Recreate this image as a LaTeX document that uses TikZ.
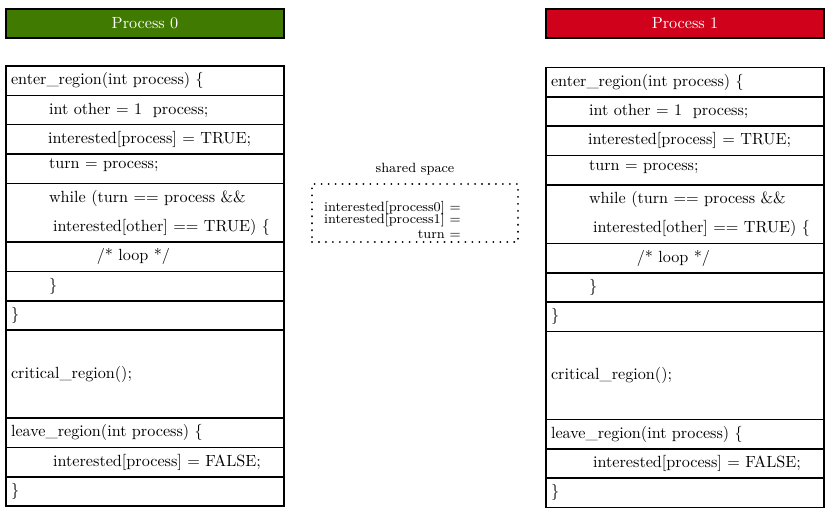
\documentclass[tikz,border=0pt]{standalone}
\usepackage{tikz}
\usetikzlibrary{positioning}

\definecolor{procgreen}{RGB}{64,122,0}
\definecolor{procred}{RGB}{208,2,27}
\newcommand{\sharedfont}{\fontsize{8.3}{7.4}\selectfont\lineskiplimit=-5pt\relax}

\begin{document}
\begin{tikzpicture}[x=0.618pt, y=-0.618pt,
    head/.style={rectangle, draw, line width=1pt, text=white, minimum width=171.8pt, minimum height=17.9pt, inner sep=0pt, outer sep=0pt},
    row/.style={rectangle, draw, line width=1pt, text width=165.6pt, align=left, inner xsep=3.1pt, inner ysep=0pt, minimum height=18.13pt, outer sep=0pt},
    shared/.style={rectangle, line width=1.3pt, dash pattern=on 0.01pt off 4.3pt, line cap=round, minimum width=127.3pt, minimum height=35.8pt},
    var/.style={font=\sharedfont, inner sep=0pt, align=right}]
    \useasboundingbox (0,0) rectangle (833,519);

    % process 0
    \node[head, fill=procgreen] (head0) at (145,23.5) {Process 0};
    \node[row, anchor=north] (enter0) at (145,66) {enter\_region(int process) \{};
    \node[row, below=0pt of enter0] (other0) {\hspace*{23.5pt}int other = 1\ \ process;};
    \node[row, below=0pt of other0] (true0) {\hspace*{22.9pt}interested[process] = TRUE;};
    \node[row, below=0pt of true0] (turn0) {\hspace*{23.5pt}\raisebox{0pt}[0pt][0pt]{turn = process;}};
    \node[row, below=0pt of turn0, minimum height=36.26pt] (while0) {\hspace*{23.5pt}while (turn == process \&\&\\[6pt]\hspace*{26pt}interested[other] == TRUE) \{};
    \node[row, below=0pt of while0] (loop0) {\hspace*{53pt}/* loop */};
    \node[row, below=0pt of loop0] (endwhile0) {\hspace*{23.5pt}\}};
    \node[row, below=0pt of endwhile0] (endenter0) {\}};
    \node[row, below=0pt of endenter0, minimum height=54.4pt] (critical0) {critical\_region();};
    \node[row, below=0pt of critical0] (leave0) {leave\_region(int process) \{};
    \node[row, below=0pt of leave0] (false0) {\hspace*{26pt}interested[process] = FALSE;};
    \node[row, below=0pt of false0] (endleave0) {\}};

    % process 1
    \node[head, fill=procred] (head1) at (685,23.5) {Process 1};
    \node[row, anchor=north] (enter1) at (685,67.5) {enter\_region(int process) \{};
    \node[row, below=0pt of enter1] (other1) {\hspace*{23.5pt}int other = 1\ \ process;};
    \node[row, below=0pt of other1] (true1) {\hspace*{22.9pt}interested[process] = TRUE;};
    \node[row, below=0pt of true1] (turn1) {\hspace*{23.5pt}\raisebox{0pt}[0pt][0pt]{turn = process;}};
    \node[row, below=0pt of turn1, minimum height=36.26pt] (while1) {\hspace*{23.5pt}while (turn == process \&\&\\[6pt]\hspace*{26pt}interested[other] == TRUE) \{};
    \node[row, below=0pt of while1] (loop1) {\hspace*{53pt}/* loop */};
    \node[row, below=0pt of loop1] (endwhile1) {\hspace*{23.5pt}\}};
    \node[row, below=0pt of endwhile1] (endenter1) {\}};
    \node[row, below=0pt of endenter1, minimum height=54.4pt] (critical1) {critical\_region();};
    \node[row, below=0pt of critical1] (leave1) {leave\_region(int process) \{};
    \node[row, below=0pt of leave1] (false1) {\hspace*{26pt}interested[process] = FALSE;};
    \node[row, below=0pt of false1] (endleave1) {\}};

    % shared space
    \node[shared, draw] (space) at (415,213) {};
    \node[font=\fontsize{8.3}{10}\selectfont, above=1.5pt of space] (spacelabel) {shared space};
    \node[var, anchor=north east] (vars) at (461,201) {interested[process0] =\\interested[process1] =\\[1.9pt]turn =};
\end{tikzpicture}
\end{document}
